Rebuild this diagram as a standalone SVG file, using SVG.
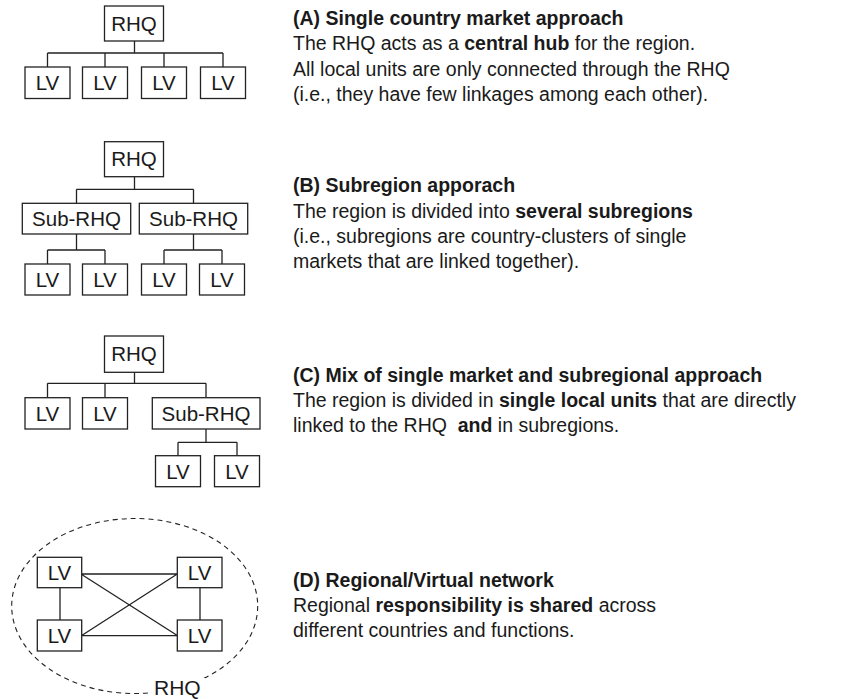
<svg xmlns="http://www.w3.org/2000/svg" width="851" height="699" viewBox="0 0 851 699">
  <style>
    .box { fill: #fff; stroke: #222; stroke-width: 1.3; }
    .lbl { font-family: "Liberation Sans", Arial, Helvetica, sans-serif; font-size: 20.5px; fill: #1a1a1a; text-anchor: middle; }
    .ln { fill: none; stroke: #222; stroke-width: 1.3; }
    .desc { font-family: "Liberation Sans", Arial, Helvetica, sans-serif; font-size: 19.5px; fill: #1a1a1a; }
    .b { font-weight: bold; }
  </style>
  <rect width="851" height="699" fill="#fff"/>

  <!-- connectors -->
  <g id="connectors" class="ln">
    <!-- (A) -->
    <path d="M134.5 41 V53 M47.5 53 H223 M47.5 53 V67 M105 53 V67 M164 53 V67 M223 53 V67"/>
    <!-- (B) -->
    <path d="M134.5 176.7 V189.3 M76.5 189.3 H193.5 M76.5 189.3 V203.3 M193.5 189.3 V203.3"/>
    <path d="M76.5 234 V250 M47.5 250 H105 M47.5 250 V264 M105 250 V264"/>
    <path d="M193.5 234 V250 M164 250 H222 M164 250 V264 M222 250 V264"/>
    <!-- (C) -->
    <path d="M134.5 372.3 V383.3 M47.5 383.3 H206 M47.5 383.3 V397.7 M105 383.3 V397.7 M206 383.3 V397.7"/>
    <path d="M206 429 V442.3 M178 442.3 H237 M178 442.3 V455.7 M237 442.3 V455.7"/>
    <!-- (D) network -->
    <path d="M81.7 574 H177.3 M81.7 635.7 H177.3 M60 587.7 V620 M200 587.7 V620 M81.7 574.5 L177.3 635.5 M81.7 635.5 L177.3 574"/>
  </g>

  <!-- (A) single country market approach -->
  <g id="a-rhq"><rect class="box" x="104.5" y="6" width="59" height="35"/><text class="lbl" x="134" y="30.5">RHQ</text></g>
  <g id="a-lv1"><rect class="box" x="25" y="67" width="45" height="31.5"/><text class="lbl" x="47.5" y="90.3">LV</text></g>
  <g id="a-lv2"><rect class="box" x="82.5" y="67" width="45" height="31.5"/><text class="lbl" x="105" y="90.3">LV</text></g>
  <g id="a-lv3"><rect class="box" x="141.5" y="67" width="45" height="31.5"/><text class="lbl" x="164" y="90.3">LV</text></g>
  <g id="a-lv4"><rect class="box" x="200.5" y="67" width="45" height="31.5"/><text class="lbl" x="223" y="90.3">LV</text></g>

  <!-- (B) subregion approach -->
  <g id="b-rhq"><rect class="box" x="104.5" y="141.7" width="59" height="35"/><text class="lbl" x="134" y="166.2">RHQ</text></g>
  <g id="b-sub1"><rect class="box" x="22.3" y="203.3" width="108.4" height="30.7"/><text class="lbl" x="76.5" y="226">Sub-RHQ</text></g>
  <g id="b-sub2"><rect class="box" x="139.3" y="203.3" width="108.4" height="30.7"/><text class="lbl" x="193.5" y="226">Sub-RHQ</text></g>
  <g id="b-lv1"><rect class="box" x="25" y="264" width="45" height="31"/><text class="lbl" x="47.5" y="287">LV</text></g>
  <g id="b-lv2"><rect class="box" x="82.5" y="264" width="45" height="31"/><text class="lbl" x="105" y="287">LV</text></g>
  <g id="b-lv3"><rect class="box" x="141.5" y="264" width="45" height="31"/><text class="lbl" x="164" y="287">LV</text></g>
  <g id="b-lv4"><rect class="box" x="199.5" y="264" width="45" height="31"/><text class="lbl" x="222" y="287">LV</text></g>

  <!-- (C) mixed approach -->
  <g id="c-rhq"><rect class="box" x="104.5" y="336" width="59" height="36.3"/><text class="lbl" x="134" y="361">RHQ</text></g>
  <g id="c-lv1"><rect class="box" x="25" y="397.7" width="45" height="31.3"/><text class="lbl" x="47.5" y="420.8">LV</text></g>
  <g id="c-lv2"><rect class="box" x="82.5" y="397.7" width="45" height="31.3"/><text class="lbl" x="105" y="420.8">LV</text></g>
  <g id="c-sub"><rect class="box" x="152.3" y="397.7" width="107.7" height="31.3"/><text class="lbl" x="206" y="420.8">Sub-RHQ</text></g>
  <g id="c-lv3"><rect class="box" x="155.5" y="455.7" width="45" height="31"/><text class="lbl" x="178" y="478.7">LV</text></g>
  <g id="c-lv4"><rect class="box" x="214.5" y="455.7" width="45" height="31"/><text class="lbl" x="237" y="478.7">LV</text></g>

  <!-- (D) regional / virtual network -->
  <g id="d-rhq">
    <ellipse cx="134.7" cy="606" rx="123" ry="87.5" fill="none" stroke="#222" stroke-width="1.1" stroke-dasharray="5 4"/>
    <rect x="152" y="678" width="53" height="21" fill="#fff"/>
    <text class="lbl" x="154" y="695" style="text-anchor:start;font-size:21px">RHQ</text>
  </g>
  <g id="d-lv1"><rect class="box" x="37.3" y="557.3" width="44.4" height="30.4"/><text class="lbl" x="59.5" y="580">LV</text></g>
  <g id="d-lv2"><rect class="box" x="177.3" y="557.3" width="44.7" height="30.4"/><text class="lbl" x="199.6" y="580">LV</text></g>
  <g id="d-lv3"><rect class="box" x="37.3" y="620" width="44.4" height="31"/><text class="lbl" x="59.5" y="643">LV</text></g>
  <g id="d-lv4"><rect class="box" x="177.3" y="620" width="44.7" height="31"/><text class="lbl" x="199.6" y="643">LV</text></g>

  <!-- descriptions -->
  <g id="desc-a" class="desc">
    <text x="293" y="25" class="b">(A) Single country market approach</text>
    <text x="293" y="50.3">The RHQ acts as a <tspan class="b">central hub</tspan> for the region.</text>
    <text x="293" y="75.6">All local units are only connected through the RHQ</text>
    <text x="293" y="101">(i.e., they have few linkages among each other).</text>
  </g>
  <g id="desc-b" class="desc">
    <text x="293" y="192" class="b">(B) Subregion apporach</text>
    <text x="293" y="217.5">The region is divided into <tspan class="b">several subregions</tspan></text>
    <text x="293" y="243">(i.e., subregions are country-clusters of single</text>
    <text x="293" y="268.3">markets that are linked together).</text>
  </g>
  <g id="desc-c" class="desc">
    <text x="293" y="381.5" class="b">(C) Mix of single market and subregional approach</text>
    <text x="293" y="406.5">The region is divided in <tspan class="b">single local units</tspan> that are directly</text>
    <text x="293" y="431.5" xml:space="preserve">linked to the RHQ  <tspan class="b">and</tspan> in subregions.</text>
  </g>
  <g id="desc-d" class="desc">
    <text x="293" y="586.7" class="b">(D) Regional/Virtual network</text>
    <text x="293" y="611.7">Regional <tspan class="b">responsibility is shared</tspan> across</text>
    <text x="293" y="636.7">different countries and functions.</text>
  </g>
</svg>
